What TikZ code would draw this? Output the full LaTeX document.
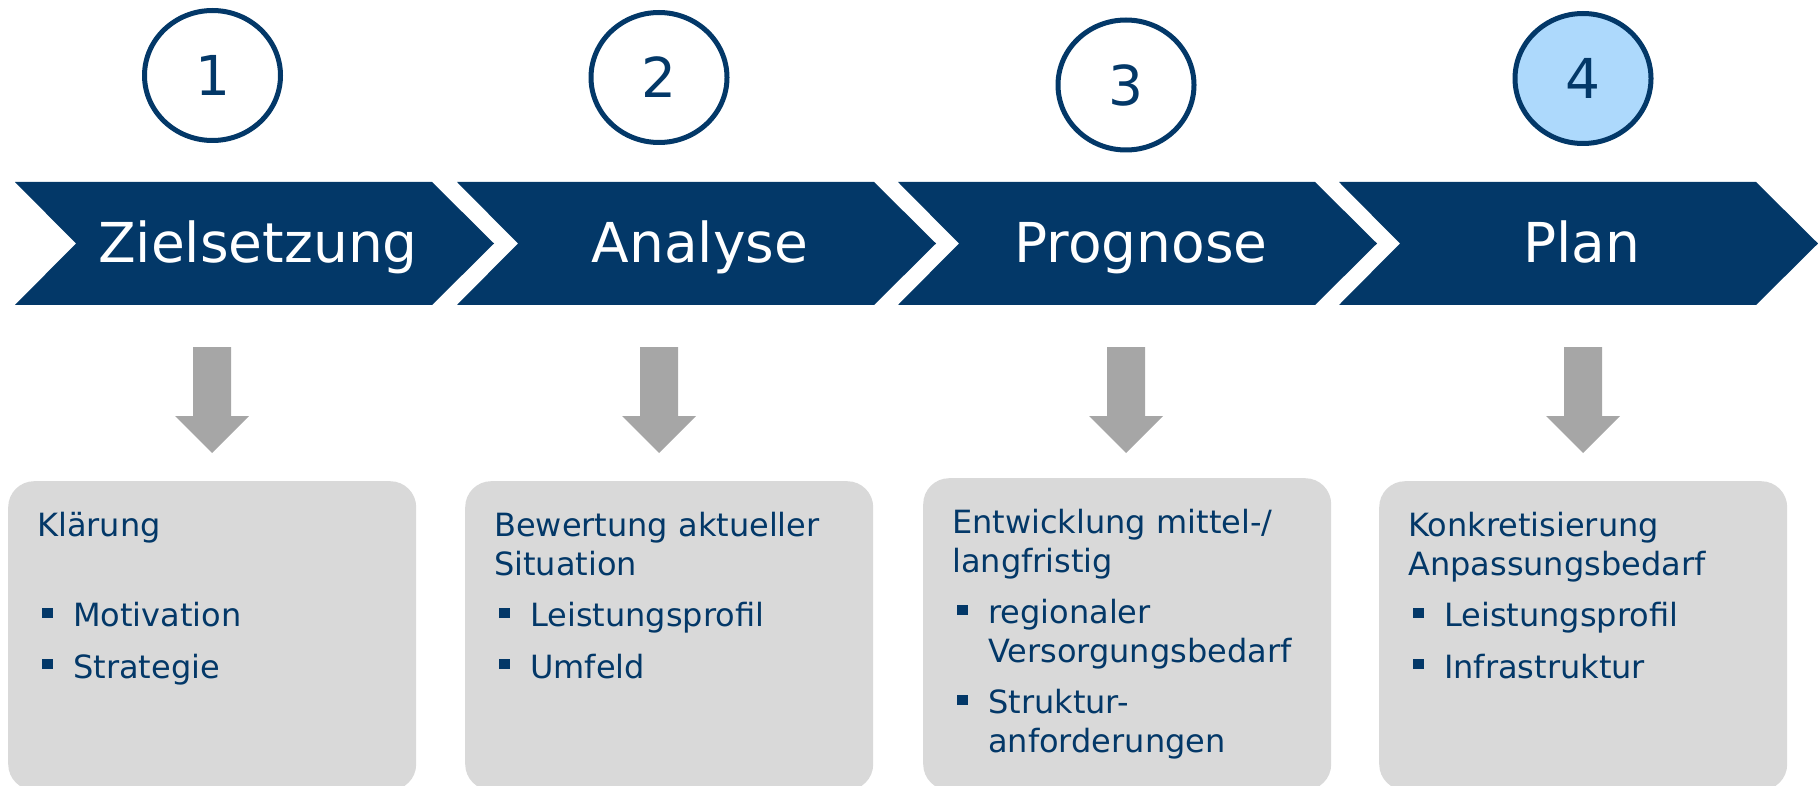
\documentclass[tikz,border=0pt]{standalone}
\usepackage{fontspec}
\setmainfont{DejaVu Sans}
\usetikzlibrary{shapes.geometric, positioning}

\definecolor{darkblue}{RGB}{3,56,104}
\definecolor{lightblue}{RGB}{173,217,252}
\definecolor{arrowgray}{RGB}{166,166,166}
\definecolor{boxgray}{RGB}{217,217,217}

\newcommand{\bul}{\hspace*{5pt}\rule[9pt]{11pt}{10pt}\hspace*{20pt}}
\newcommand{\cont}{\hspace*{36pt}}

\begin{document}
\begin{tikzpicture}[x=1pt, y=-1pt,
  chevron/.style={fill=darkblue},
  steplabel/.style={anchor=base, text=white, inner sep=0pt, font=\fontsize{55}{66}\selectfont},
  stepnum/.style={ellipse, draw=darkblue, fill=white, line width=5pt, minimum width=136pt, minimum height=130pt, inner sep=0pt, text=darkblue, font=\fontsize{55}{66}\selectfont},
  downarrow/.style={fill=arrowgray},
  infobox/.style={fill=boxgray, rounded corners=26pt, minimum width=408pt, minimum height=309pt, anchor=north west, inner sep=0pt},
  infotext/.style={inner sep=0pt, align=left, text=darkblue, font=\fontsize{32}{38.5}\selectfont}]

  \useasboundingbox (0,0) rectangle (1818,786);

  % step chevrons
  \fill[chevron, shift={(15,0)}] (0,182) -- (417,182) -- (479,243.5) -- (417,305) -- (0,305) -- (61,243.5) -- cycle;
  \fill[chevron, shift={(457,0)}] (0,182) -- (417,182) -- (479,243.5) -- (417,305) -- (0,305) -- (61,243.5) -- cycle;
  \fill[chevron, shift={(898,0)}] (0,182) -- (417,182) -- (479,243.5) -- (417,305) -- (0,305) -- (61,243.5) -- cycle;
  \fill[chevron, shift={(1339,0)}] (0,182) -- (417,182) -- (479,243.5) -- (417,305) -- (0,305) -- (61,243.5) -- cycle;

  % names of steps
  \node[steplabel] (ziel) at (258,263) {Zielsetzung};
  \node[steplabel] (analyse) at (700,263) {Analyse};
  \node[steplabel] (prognose) at (1141,263) {Prognose};
  \node[steplabel] (plan) at (1582,263) {Plan};

  % numbers
  \node[stepnum] (n1) at (212.5,75.5) {1};
  \node[stepnum] (n2) at (659,77.5) {2};
  \node[stepnum] (n3) at (1126,85) {3};
  \node[stepnum, fill=lightblue] (n4) at (1583,78.5) {4};

  % arrows
  \fill[downarrow, shift={(212,0)}] (-19,347) -- (19,347) -- (19,416) -- (37,416) -- (0,453) -- (-37,416) -- (-19,416) -- cycle;
  \fill[downarrow, shift={(659,0)}] (-19,347) -- (19,347) -- (19,416) -- (37,416) -- (0,453) -- (-37,416) -- (-19,416) -- cycle;
  \fill[downarrow, shift={(1126,0)}] (-19,347) -- (19,347) -- (19,416) -- (37,416) -- (0,453) -- (-37,416) -- (-19,416) -- cycle;
  \fill[downarrow, shift={(1583,0)}] (-19,347) -- (19,347) -- (19,416) -- (37,416) -- (0,453) -- (-37,416) -- (-19,416) -- cycle;

  % boxes
  \node[infobox] (b1) at (8,481) {};
  \node[infobox] (b2) at (465,481) {};
  \node[infobox, minimum height=312pt] (b3) at (923,478) {};
  \node[infobox] (b4) at (1379,481) {};

  % box texts
  \node[infotext, below right=31pt and 29pt of b1.north west] (t1)
    {Klärung\\ \mbox{}\\[13pt] \bul Motivation\\[13pt] \bul Strategie};
  \node[infotext, below right=31pt and 29pt of b2.north west] (t2)
    {Bewertung aktueller\\ Situation\\[13pt] \bul Leistungsprofil\\[13pt] \bul Umfeld};
  \node[infotext, below right=31pt and 29pt of b3.north west] (t3)
    {Entwicklung mittel-/\\ langfristig\\[13pt] \bul regionaler\\ \cont Versorgungsbedarf\\[13pt] \bul Struktur-\\ \cont anforderungen};
  \node[infotext, below right=31pt and 29pt of b4.north west] (t4)
    {Konkretisierung\\ Anpassungsbedarf\\[13pt] \bul Leistungsprofil\\[13pt] \bul Infrastruktur};

\end{tikzpicture}
\end{document}
